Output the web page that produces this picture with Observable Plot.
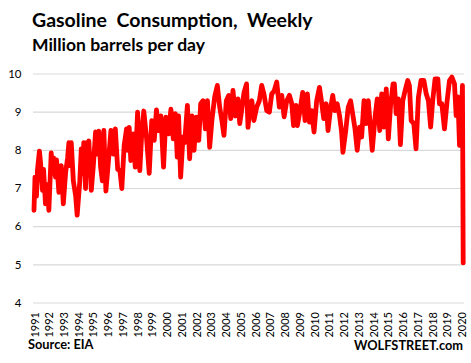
<!DOCTYPE html>
<html><head><meta charset="utf-8">
<script src="https://cdn.jsdelivr.net/npm/d3@7"></script>
<script src="https://cdn.jsdelivr.net/npm/@observablehq/plot@0.6"></script>
<style>
html,body{margin:0;padding:0;background:#fff;}
body{width:471px;height:363px;position:relative;overflow:hidden;font-family:Lato,"Open Sans",sans-serif;color:#000;}
.t{position:absolute;white-space:pre;font-weight:bold;line-height:1.2;}
#title{left:32px;top:8px;font-size:19.5px;}
#sub{left:32px;top:34px;font-size:17.5px;}
#src{left:28px;top:337px;font-size:12.8px;}
#brand{right:8px;top:338px;font-size:12.8px;}
#chart{position:absolute;left:0;top:60px;}
</style></head><body>
<div id="title" class="t">Gasoline  Consumption,  Weekly</div>
<div id="sub" class="t">Million barrels per day</div>
<div id="chart"></div>
<div id="src" class="t">Source: EIA</div>
<div id="brand" class="t">WOLFSTREET.com</div>
<script>
const weekYear = [
1990.93,1991.00,1991.10,1991.17,1991.30,1991.37,1991.51,1991.58,1991.71,1991.82,1991.94,
1992.10,1992.19,1992.26,1992.39,1992.46,1992.62,1992.78,1992.92,
1993.08,1993.21,1993.30,1993.38,1993.46,1993.60,1993.76,1993.86,
1994.04,1994.14,1994.22,1994.31,1994.43,1994.50,1994.56,1994.65,1994.82,1994.95,
1995.11,1995.21,1995.33,1995.45,1995.57,1995.67,1995.81,
1996.00,1996.15,1996.32,1996.45,1996.61,1996.76,1996.89,
1997.05,1997.21,1997.30,1997.39,1997.50,1997.67,1997.80,1997.96,
1998.11,1998.24,1998.38,1998.56,1998.75,1998.92,
1999.09,1999.24,1999.38,1999.54,1999.72,1999.88,
2000.06,2000.22,2000.38,2000.52,2000.65,2000.74,2000.88,
2001.04,2001.15,2001.34,2001.49,2001.65,2001.79,2001.95,
2002.11,2002.24,2002.40,2002.56,2002.70,2002.85,
2003.00,2003.19,2003.37,2003.53,2003.68,2003.82,2003.98,
2004.14,2004.28,2004.43,2004.60,2004.77,2004.89,
2005.05,2005.18,2005.35,2005.45,2005.57,2005.71,2005.85,
2006.04,2006.22,2006.38,2006.53,2006.72,2006.90,
2007.06,2007.22,2007.40,2007.58,2007.74,2007.90,
2008.08,2008.26,2008.42,2008.54,2008.71,2008.80,2008.98,
2009.16,2009.32,2009.48,2009.62,2009.77,2009.93,
2010.11,2010.30,2010.43,2010.59,2010.75,2010.88,
2011.05,2011.20,2011.34,2011.50,2011.66,2011.80,2011.89,
2012.07,2012.25,2012.41,2012.57,2012.71,2012.86,
2013.02,2013.16,2013.32,2013.47,2013.61,2013.77,2013.88,
2014.07,2014.22,2014.39,2014.52,2014.68,2014.83,2014.97,
2015.13,2015.29,2015.38,2015.50,2015.65,2015.79,2015.95,
2016.11,2016.29,2016.40,2016.52,2016.70,2016.85,
2017.01,2017.19,2017.38,2017.54,2017.69,2017.84,2017.98,
2018.14,2018.33,2018.44,2018.60,2018.78,2018.96,
2019.12,2019.28,2019.46,2019.57,2019.69,2019.80,2019.92,
2020.00,2020.05
];
const mbpd = [
6.43,7.30,6.80,7.50,7.98,7.70,6.95,7.50,6.60,7.10,6.43,
7.93,7.40,7.80,7.30,7.75,6.90,7.60,6.60,
7.43,7.80,8.20,7.60,8.20,7.20,6.80,6.30,
7.20,8.04,7.40,8.20,7.00,8.20,7.60,8.25,6.95,7.56,
8.48,7.90,8.50,7.56,7.20,8.52,6.93,
7.80,8.52,7.90,8.56,7.50,7.47,7.00,
8.13,8.56,8.00,8.60,7.73,8.43,7.56,9.00,
7.47,8.43,9.03,8.35,7.40,8.78,
8.26,9.06,8.52,8.90,7.56,8.87,
8.43,9.08,8.30,8.96,7.82,8.90,7.30,
8.35,8.20,9.18,7.78,8.90,8.00,8.87,
8.26,9.22,9.30,8.56,9.30,8.08,
8.78,9.40,9.70,9.13,8.78,8.39,9.30,
9.44,8.83,9.57,8.90,9.35,8.70,
9.13,9.52,9.74,8.60,9.10,9.30,8.78,
9.13,9.30,9.70,9.48,9.04,9.00,
9.48,9.55,9.79,9.13,9.44,8.88,
9.30,9.44,9.22,8.65,9.18,8.65,9.04,
9.52,8.78,9.48,8.74,9.04,8.48,
9.30,9.65,9.30,8.83,9.22,8.52,
9.09,9.44,9.04,9.22,8.91,8.48,7.95,
8.48,9.13,9.30,8.91,8.56,8.00,
8.61,8.35,9.30,8.70,9.30,8.52,8.00,
8.87,9.35,8.52,9.48,8.61,9.61,8.30,
9.22,9.74,9.74,8.96,9.35,8.15,9.30,
9.57,9.83,9.70,8.78,8.70,8.04,
9.39,9.83,9.83,9.48,9.30,8.61,9.30,
9.87,9.87,9.22,9.22,8.56,9.30,
9.83,9.92,9.74,8.91,9.40,8.13,8.80,
9.70,5.05
];
const yTicks = [4,5,6,7,8,9,10];
const yearLabels = [1991,1992,1993,1994,1995,1996,1997,1998,1999,2000,2001,2002,2003,2004,2005,2006,2007,2008,2009,2010,2011,2012,2013,2014,2015,2016,2017,2018,2019,2020];

const data = weekYear.map((t,i)=>({t, v: mbpd[i]}));

const chart = Plot.plot({
  width: 471,
  height: 280,
  marginLeft: 33,
  marginRight: 7,
  marginTop: 13.5,
  marginBottom: 37.5,
  style: {fontFamily: "Lato, 'Open Sans', sans-serif", fontSize: "11px", color: "#000", background: "#fff"},
  x: {type: "linear", domain: [1990.898, 2020.138]},
  y: {domain: [4, 10]},
  marks: [
    Plot.ruleY(yTicks, {stroke: "#d9d9d9", strokeWidth: 1.2}),
    Plot.line(data, {x: "t", y: "v", stroke: "#ff0000", strokeWidth: 4.8, strokeLinejoin: "round", strokeLinecap: "round"}),
    Plot.axisY(yTicks, {tickSize: 0, tickPadding: 12, tickFormat: d => String(d), label: null, fontSize: 11.5}),
    Plot.axisX(yearLabels, {tickSize: 0, tickPadding: 9, tickRotate: -90, tickFormat: d => String(d), label: null, fontSize: 11})
  ]
});
document.getElementById("chart").appendChild(chart);
</script>
</body></html>
